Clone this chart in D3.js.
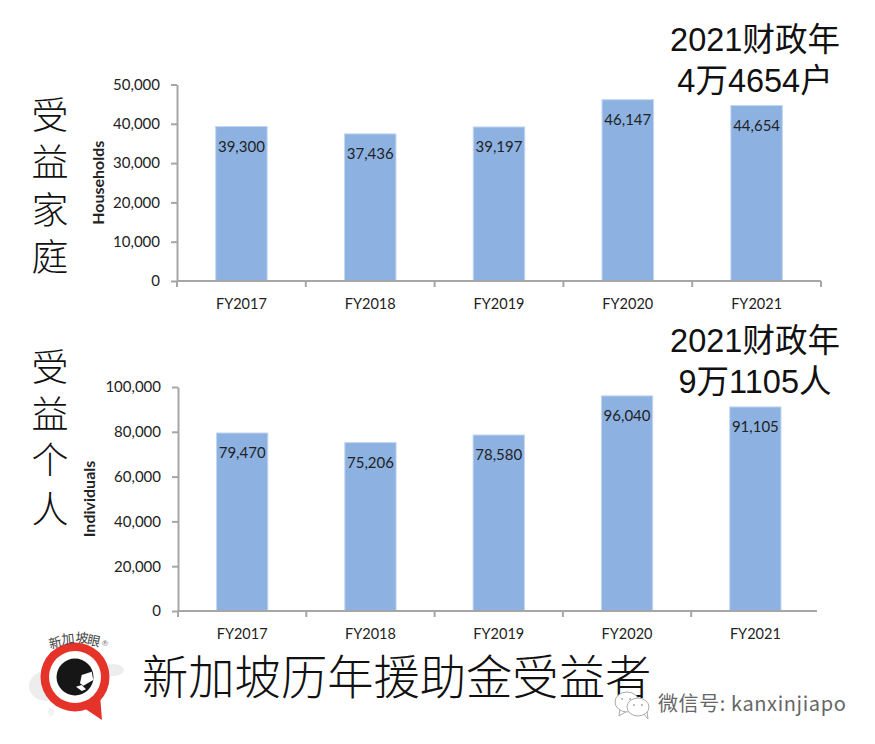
<!DOCTYPE html>
<meta charset="utf-8">
<style>
body { margin: 0; background: #fff; }
text { font-family: Lato, "Noto Sans CJK SC", sans-serif; fill: #222; }
.cjk, .cjk text { font-family: "Noto Sans CJK SC", sans-serif; font-weight: 300; fill: #111; }
.big { font-family: "Liberation Sans", "Noto Sans CJK SC", sans-serif; font-size: 32.5px; fill: #111; text-anchor: middle; }
.bar { fill: #8db2e2; stroke: #c4d7f0; stroke-width: 1; }
.axis path, .axis line { stroke: #a6a6a6; stroke-width: 2; }
.axis text { font-family: Lato, sans-serif; fill: #222; }
</style>
<body>
<script src="https://d3js.org/d3.v7.min.js"></script>
<script>
var years = ["FY2017", "FY2018", "FY2019", "FY2020", "FY2021"];
var households = [39300, 37436, 39197, 46147, 44654];
var individuals = [79470, 75206, 78580, 96040, 91105];
var householdTicks = [0, 10000, 20000, 30000, 40000, 50000];
var individualTicks = [0, 20000, 40000, 60000, 80000, 100000];

var svg = d3.select("body").append("svg").attr("width", 875).attr("height", 744);
var fmt = d3.format(",");

function bars(values, ticks, box, title, titleX) {
  var x = d3.scaleBand().domain(years).range([box.left, box.right]).paddingInner(0.6).paddingOuter(0.3),
      y = d3.scaleLinear().domain([0, d3.max(ticks)]).range([box.bottom, box.top]);

  var g = svg.append("g");

  g.selectAll(".bar")
    .data(values)
    .enter().append("rect")
      .attr("class", "bar")
      .attr("x", function(d, i) { return x(years[i]); })
      .attr("y", function(d) { return y(d); })
      .attr("width", x.bandwidth())
      .attr("height", function(d) { return box.bottom - y(d); });

  g.selectAll(".val")
    .data(values)
    .enter().append("text")
      .attr("class", "val")
      .attr("x", function(d, i) { return x(years[i]) + x.bandwidth() / 2; })
      .attr("y", function(d) { return y(d) + 25; })
      .attr("text-anchor", "middle")
      .style("font-size", "15px")
      .text(fmt);

  var ax = g.append("g")
      .attr("class", "axis")
      .attr("transform", "translate(" + box.left + ",0)")
      .call(d3.axisLeft(y).tickValues(ticks).tickFormat(fmt).tickSize(6).tickSizeOuter(0).tickPadding(11));
  ax.selectAll("text").style("font-size", "15px");

  var bx = g.append("g")
      .attr("class", "axis")
      .attr("transform", "translate(0," + box.bottom + ")")
      .call(d3.axisBottom(x).tickSize(0).tickPadding(18));
  bx.selectAll("text").style("font-size", "14.5px");

  // the baseline can stop short of the last band (second chart is cropped)
  bx.select(".domain").attr("d", "M" + box.left + ",0H" + box.end);

  // the category ticks sit between the bars
  bx.selectAll(".sep")
    .data(d3.range(years.length + 1).filter(function(i) { return box.left + i * x.step() <= box.end + 1; }))
    .enter().append("line")
      .attr("x1", function(i) { return box.left + i * x.step(); })
      .attr("x2", function(i) { return box.left + i * x.step(); })
      .attr("y1", 0)
      .attr("y2", 6);

  g.append("text")
      .attr("transform", "translate(" + titleX + "," + ((box.top + box.bottom) / 2) + ") rotate(-90)")
      .attr("text-anchor", "middle")
      .style("font-size", "16px")
      .style("font-weight", "700")
      .text(title);
}

bars(households, householdTicks, {left: 177, right: 821, end: 821, top: 84.5, bottom: 281}, "Households", 104);
bars(individuals, individualTicks, {left: 178, right: 819.5, end: 817, top: 387, bottom: 611}, "Individuals", 95);

// annotations
function lines(arr, x, y0) {
  svg.selectAll(null).data(arr).enter().append("text")
    .attr("class", "big")
    .attr("x", x)
    .attr("y", function(d, i) { return y0 + i * 41; })
    .text(function(d) { return d; });
}
lines(["2021财政年", "4万4654户"], 755, 51);
lines(["2021财政年", "9万1105人"], 755, 352);

// one text per column, each glyph placed by the x/y lists
function column(str, x, ys) {
  svg.append("text")
      .attr("class", "cjk")
      .attr("x", ys.map(function() { return x; }).join(" "))
      .attr("y", ys.join(" "))
      .attr("dominant-baseline", "central")
      .attr("text-anchor", "middle")
      .style("font-size", "37px")
      .text(str);
}
column("受益家庭", 50, [113, 160, 208, 255]);
column("受益个人", 50, [365, 412, 458, 507]);

svg.append("text")
    .attr("class", "cjk")
    .attr("x", 142)
    .attr("y", 694)
    .style("font-size", "46.3px")
    .text("新加坡历年援助金受益者");

// logo
var logo = svg.append("g");
logo.append("ellipse").attr("cx", 46).attr("cy", 686).attr("rx", 17).attr("ry", 15).attr("fill", "#ededed");
logo.append("ellipse").attr("cx", 113).attr("cy", 670).attr("rx", 11).attr("ry", 6).attr("fill", "#ededed");
logo.append("ellipse").attr("cx", 51).attr("cy", 712).attr("rx", 3).attr("ry", 4).attr("fill", "#f2f2f2");
logo.append("path").attr("d", "M84 708 L102 720 L100 695 Z").attr("fill", "#e5332a");
logo.append("circle").attr("cx", 75).attr("cy", 677).attr("r", 34.5).attr("fill", "#e5332a");
logo.append("circle").attr("cx", 75).attr("cy", 677).attr("r", 26).attr("fill", "#fff");
logo.append("circle").attr("cx", 75).attr("cy", 677).attr("r", 18.5).attr("fill", "#161616");
logo.append("path").attr("d", "M81.7 675 L91.7 671.7 L93.3 680 L83.3 685.7 L80 683.3 Z").attr("fill", "#fff");
logo.append("path").attr("d", "M76 686.7 L81.7 685 L86 689.3 L81.7 691 Z").attr("fill", "#fff");
var logoChars = ["新", "加", "坡", "眼"],
    logoX = [55, 68, 82, 94],
    logoY = [642, 638, 637, 640],
    logoRot = [-15, -6, 4, 12];
logo.selectAll(".lc")
  .data(logoChars)
  .enter().append("text")
    .attr("class", "lc")
    .attr("text-anchor", "middle")
    .attr("dominant-baseline", "central")
    .attr("transform", function(d, i) { return "translate(" + logoX[i] + "," + logoY[i] + ") rotate(" + logoRot[i] + ")"; })
    .style("font-family", "'Noto Sans CJK SC', sans-serif")
    .style("font-size", "13px")
    .style("fill", "#444")
    .text(function(d) { return d; });
logo.append("text")
    .attr("x", 105).attr("y", 646)
    .attr("text-anchor", "middle")
    .style("font-size", "8px")
    .style("fill", "#777")
    .text("®");

// watermark
var wm = svg.append("g").attr("fill", "#fff").attr("stroke", "#aaa").attr("stroke-width", 1);
wm.append("path").attr("d", "M620 708 L619 716 L627 711 Z");
wm.append("ellipse").attr("cx", 627).attr("cy", 702).attr("rx", 12).attr("ry", 10);
wm.append("path").attr("d", "M643 713 L648 719 L647 711 Z");
wm.append("ellipse").attr("cx", 638).attr("cy", 707).attr("rx", 11).attr("ry", 9);
wm.selectAll(null).data([[622, 699], [630, 699], [634, 705], [642, 705]]).enter().append("circle")
    .attr("cx", function(d) { return d[0]; })
    .attr("cy", function(d) { return d[1]; })
    .attr("r", 1)
    .attr("fill", "#aaa")
    .attr("stroke", "none");
svg.append("text")
    .attr("x", 658)
    .attr("y", 711)
    .style("font-family", "'Noto Sans CJK SC', sans-serif")
    .style("font-size", "20px")
    .style("letter-spacing", "0.6px")
    .style("fill", "#666")
    .text("微信号: kanxinjiapo");
</script>
</body>
